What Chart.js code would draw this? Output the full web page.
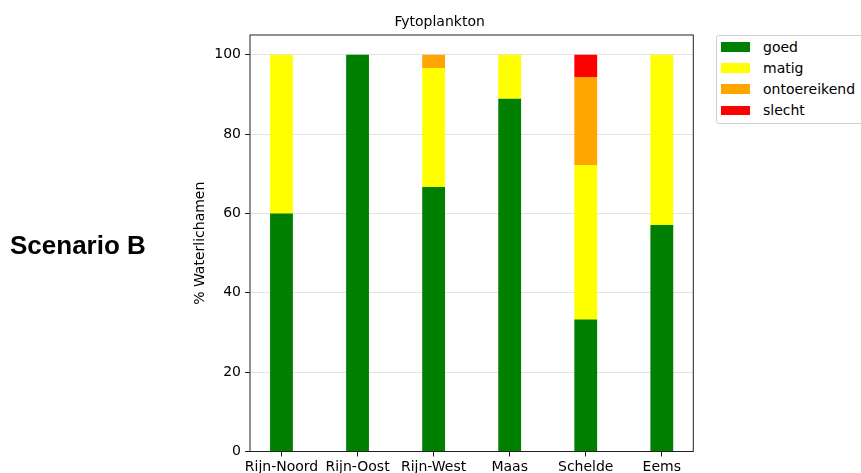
<!DOCTYPE html>
<html>
<head>
<meta charset="utf-8">
<script src="https://cdn.jsdelivr.net/npm/chart.js@4/dist/chart.umd.min.js"></script>
<style>
  html, body { margin: 0; padding: 0; background: #fff; overflow: hidden; }
  #wrap { position: relative; width: 861px; height: 473px; }
  #c { position: absolute; left: 0; top: 0; }
  #scen { position: absolute; left: 10px; top: 231.5px; font: bold 26px "Liberation Sans", Arial, sans-serif; line-height: 26px; color: #000; white-space: nowrap; }
  #legend { position: absolute; left: 715.5px; top: 34.5px; width: 160px; border: 1px solid #cfcfcf; border-radius: 3px; padding: 1px 0 2.4px 0; background: #fff; font: 14px "DejaVu Sans", sans-serif; color: #000; }
  .row { height: 21.1px; line-height: 21.1px; display: flex; align-items: center; white-space: nowrap; }
  .patch { width: 29px; height: 9.5px; margin-left: 4.5px; margin-right: 13px; flex: none; }
</style>
</head>
<body>
<div id="wrap">
  <canvas id="c" width="861" height="473"></canvas>
  <div id="scen">Scenario B</div>
  <div id="legend"></div>
</div>
<script>
const categories = ['Rijn-Noord', 'Rijn-Oost', 'Rijn-West', 'Maas', 'Schelde', 'Eems'];
const goed = [60, 100, 66.7, 88.9, 33.3, 57.1];
const matig = [40, 0, 30, 11.1, 38.9, 42.9];
const ontoereikend = [0, 0, 3.3, 0, 22.2, 0];
const slecht = [0, 0, 0, 0, 5.6, 0];
const seriesNames = ['goed', 'matig', 'ontoereikend', 'slecht'];
const seriesColors = ['#008000', '#ffff00', '#ffa500', '#ff0000'];
const yTicks = [0, 20, 40, 60, 80, 100];
const chartTitle = 'Fytoplankton';
const yTitle = '% Waterlichamen';

Chart.defaults.font.family = '"DejaVu Sans", sans-serif';
Chart.defaults.font.size = 14;
Chart.defaults.color = '#000';

const seriesValues = [goed, matig, ontoereikend, slecht];
const datasets = seriesNames.map((name, s) => ({
  label: name,
  data: categories.map((c, i) => ({ x: i, y: seriesValues[s][i] })),
  backgroundColor: seriesColors[s],
  borderWidth: 0,
  barPercentage: 0.3,
  categoryPercentage: 1.0
}));

const frame = {
  id: 'frame',
  afterDatasetsDraw(chart) {
    const a = chart.chartArea, ctx = chart.ctx;
    ctx.save();
    ctx.strokeStyle = '#222';
    ctx.lineWidth = 1;
    ctx.strokeRect(a.left, a.top, a.right - a.left, a.bottom - a.top);
    ctx.restore();
  }
};

new Chart(document.getElementById('c'), {
  type: 'bar',
  data: { datasets },
  options: {
    responsive: false,
    animation: false,
    layout: { padding: { left: 186, right: 167.7, top: 0, bottom: 0 } },
    plugins: {
      legend: { display: false },
      tooltip: { enabled: false },
      title: {
        display: true, text: chartTitle,
        font: { size: 14, weight: 'normal' }, color: '#000',
        padding: { top: 13.6, bottom: 4.6 }
      }
    },
    scales: {
      x: {
        type: 'linear', stacked: true, offset: false,
        min: -0.414, max: 5.414,
        afterBuildTicks(scale) { scale.ticks = categories.map((c, i) => ({ value: i })); },
        afterFit(scale) { scale.height = 21.5; },
        ticks: { callback: (v) => categories[v], padding: 2, maxRotation: 0, autoSkip: false, color: '#000' },
        grid: { display: true, offset: false, drawOnChartArea: false, tickLength: 5, tickColor: '#222' },
        border: { display: false }
      },
      y: {
        stacked: true, min: 0, max: 105,
        afterBuildTicks(scale) { scale.ticks = yTicks.map(v => ({ value: v })); },
        afterFit(scale) { scale.width = 64; },
        ticks: { padding: 4, color: '#000' },
        grid: { color: '#e3e3e3', tickLength: 5, tickColor: '#222' },
        border: { display: false },
        title: { display: true, text: yTitle, font: { size: 14 }, color: '#000', padding: { top: 6 } }
      }
    }
  },
  plugins: [frame]
});

const leg = document.getElementById('legend');
seriesNames.forEach((n, s) => {
  const r = document.createElement('div');
  r.className = 'row';
  const p = document.createElement('span');
  p.className = 'patch';
  p.style.background = seriesColors[s];
  const t = document.createElement('span');
  t.textContent = n;
  r.appendChild(p); r.appendChild(t);
  leg.appendChild(r);
});
</script>
</body>
</html>
